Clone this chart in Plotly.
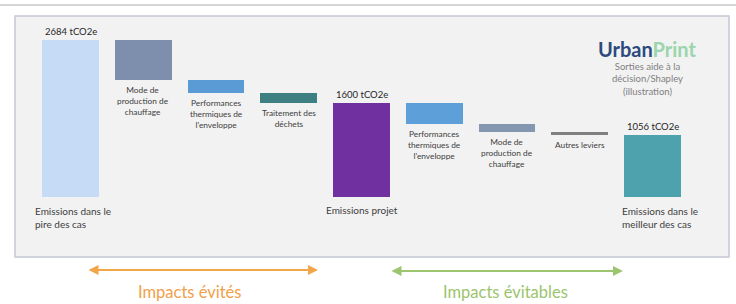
import plotly.graph_objects as go

# ---------------- data ----------------
categories = [
    "Emissions dans le<br>pire des cas",
    "Mode de<br>production de<br>chauffage",
    "Performances<br>thermiques de<br>l'enveloppe",
    "Traitement des<br>déchets",
    "Emissions projet",
    "Performances<br>thermiques de<br>l'enveloppe",
    "Mode de<br>production de<br>chauffage",
    "Autres leviers",
    "Emissions dans le<br>meilleur des cas",
]
measures = ["total", "relative", "relative", "relative", "total",
            "relative", "relative", "relative", "total"]
worst_case = 2684          # tCO2e
avoided_impacts = [676, 227, 181]     # tCO2e
project = 1600             # tCO2e
avoidable_impacts = [351, 133, 60]    # tCO2e
best_case = 1056           # tCO2e
total_labels = ["2684 tCO2e", "1600 tCO2e", "1056 tCO2e"]
bracket_labels = ["Impacts évités", "Impacts évitables"]
logo_sub = ["Sorties aide à la", "décision/Shapley", "(illustration)"]

# ---------------- styles ----------------
colors = ["#c6dbf5", "#7d8fad", "#5b9bd5", "#3e7f82", "#7030a0",
          "#5d9fd9", "#8497b0", "#7f7f7f", "#4ea2ad"]
W, H = 736, 304
FONT = "Lato"

# build waterfall geometry from data
steps = [worst_case] + avoided_impacts + [project] + avoidable_impacts + [best_case]
heights, bases = [], []
level = 0
for m, v in zip(measures, steps):
    if m == "total":
        heights.append(v)
        bases.append(0)
        level = v
    else:
        level = level - v
        heights.append(v)
        bases.append(level)

idx = list(range(len(categories)))

# axis scale: value 0 at pixel 197, worst case 157 px tall
s = 157 / worst_case
y0_px = 197
yrange = [(y0_px - H) / s, y0_px / s]
x0_px, dx_px = 70.5, 72.75
xrange = [-x0_px / dx_px, (W - x0_px) / dx_px]

fig = go.Figure()
fig.add_trace(go.Bar(
    x=idx, y=heights, base=bases, width=0.78,
    marker=dict(color=colors, line=dict(width=0)),
    hoverinfo="skip", showlegend=False,
))

def px(xp, yp):
    return xp / W, 1 - yp / H

annotations = []
# total value labels
ti = 0
for i, m in enumerate(measures):
    if m == "total":
        annotations.append(dict(
            x=i, y=heights[i], xref="x", yref="y", text=total_labels[ti],
            showarrow=False, yanchor="bottom", xanchor="center", yshift=1,
            font=dict(family=FONT, size=9.5, color="#262626")))
        ti += 1

# category labels beneath each bar
for i, (m, c) in enumerate(zip(measures, categories)):
    if m == "total":
        if i == 4:
            annotations.append(dict(
                x=i, y=bases[i], xref="x", yref="y", text=c, showarrow=False,
                yanchor="top", xanchor="center", yshift=-5,
                font=dict(family=FONT, size=10, color="#404040")))
        else:
            annotations.append(dict(
                x=i, y=bases[i], xref="x", yref="y", text=c, showarrow=False,
                yanchor="top", xanchor="left", align="left",
                xshift=-38 if i == 0 else -33, yshift=-6,
                font=dict(family=FONT, size=10, color="#404040")))
    else:
        annotations.append(dict(
            x=i, y=bases[i], xref="x", yref="y", text=c, showarrow=False,
            yanchor="top", xanchor="center", align="center", yshift=-3,
            font=dict(family=FONT, size=8.3, color="#404040")))

# logo
lx, ly = px(647, 49)
annotations.append(dict(
    x=lx, y=ly, xref="paper", yref="paper", showarrow=False,
    text="<b><span style='color:#2d4a7e'>Urban</span><span style='color:#9ad5ad'>Print</span></b>",
    font=dict(family=FONT, size=20), xanchor="center", yanchor="middle"))
sx, sy = px(647, 59)
annotations.append(dict(
    x=sx, y=sy, xref="paper", yref="paper", showarrow=False,
    text="<br>".join(logo_sub), align="center",
    font=dict(family=FONT, size=9.5, color="#808080"),
    xanchor="center", yanchor="top"))

# arrows + bracket labels
arrow_specs = [(87, 318, 270, "#f2a649"), (390, 623, 271, "#9dc46f")]
text_specs = [(189, 292, "#f0a04b"), (505, 292, "#9bc46d")]
for (xa, xb, yy, col), (tx, ty, tcol), lab in zip(arrow_specs, text_specs, bracket_labels):
    ax_, ay_ = px(xb, yy)
    annotations.append(dict(
        x=ax_, y=ay_, xref="paper", yref="paper", text="", showarrow=True,
        ax=-(xb - xa), ay=0, axref="pixel", ayref="pixel",
        arrowhead=2, arrowside="end+start", arrowsize=1, arrowwidth=2,
        arrowcolor=col))
    tx_, ty_ = px(tx, ty)
    annotations.append(dict(
        x=tx_, y=ty_, xref="paper", yref="paper", text=lab, showarrow=False,
        font=dict(family=FONT, size=16.5, color=tcol),
        xanchor="center", yanchor="middle"))

# panel + top rule
px0, py0 = px(15, 257)
px1, py1 = px(729, 16)
shapes = [
    dict(type="rect", xref="paper", yref="paper", x0=px0, x1=px1, y0=py0, y1=py1,
         fillcolor="#f2f2f2", line=dict(color="#c4c8d2", width=1.5), layer="below"),
    dict(type="line", xref="paper", yref="paper", x0=0, x1=1,
         y0=1 - 5 / H, y1=1 - 5 / H, line=dict(color="#d6d6d6", width=2), layer="below"),
]

fig.update_layout(
    width=W, height=H,
    margin=dict(l=0, r=0, t=0, b=0, pad=0),
    paper_bgcolor="white", plot_bgcolor="rgba(0,0,0,0)",
    xaxis=dict(range=xrange, visible=False, fixedrange=True),
    yaxis=dict(range=yrange, visible=False, fixedrange=True),
    bargap=0,
    annotations=annotations, shapes=shapes,
    font=dict(family=FONT),
)

fig.write_html(
    "out.html",
    config={"displayModeBar": False},
    post_script="document.body.style.margin='0';document.body.style.overflow='hidden';",
)
